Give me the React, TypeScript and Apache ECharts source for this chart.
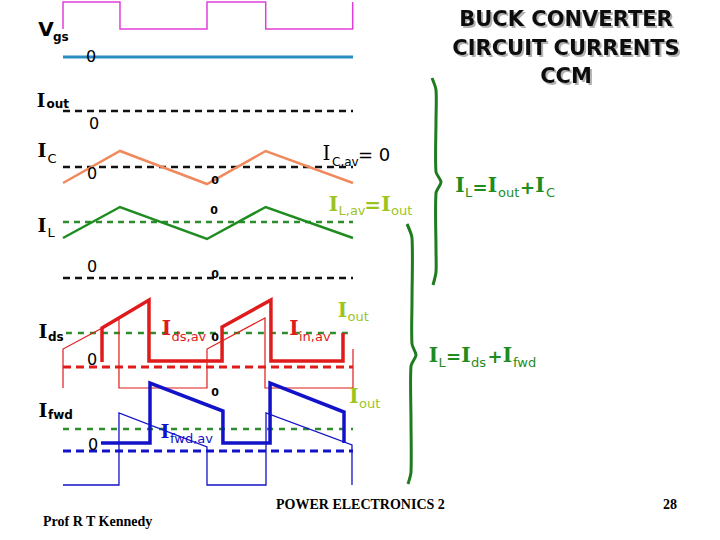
import React, { useEffect, useRef } from "react";
import * as echarts from "echarts";

// x: time in switching periods (0..2); y: vertical level on the slide scale (0 = top, 540 = bottom)
const vgsWave = [[0, 29], [0, 2], [0.393, 2], [0.393, 29], [0.993, 29], [0.993, 2], [1.398, 2], [1.398, 29], [1.998, 29], [1.998, 2]];
const vgsZero = [[0, 57], [2, 57]];
const ioutLevel = [[0, 111], [2, 111]];
const icWave = [[0, 183], [0.393, 151], [0.993, 184], [1.398, 151], [2, 183]];
const icAvg = [[0, 167], [2, 167]];
const ilWave = [[0, 238], [0.393, 207], [0.993, 239], [1.398, 207], [2, 238]];
const ilAvg = [[0, 222], [2, 222]];
const idsZero = [[0, 278], [2, 278]];
const idsThick = [[0.269, 362], [0.269, 328], [0.593, 300], [0.593, 361], [1.097, 361], [1.097, 327], [1.434, 300], [1.434, 361], [1.931, 361], [1.931, 333]];
const idsThin = [[0, 388], [0, 349], [0.386, 319], [0.386, 388], [0.993, 388], [0.993, 349], [1.393, 318], [1.393, 388], [2, 388], [2, 349]];
const idsOutLevel = [[0.02, 333], [2, 333]];
const idsAvg = [[0, 367], [2, 367]];
const fwdThick = [[0.262, 443], [0.6, 443], [0.6, 383], [1.103, 411], [1.103, 443], [1.428, 443], [1.428, 383], [1.938, 412], [1.938, 443]];
const fwdThin = [[0, 485], [0.386, 485], [0.386, 413], [0.993, 447], [0.993, 485], [1.4, 485], [1.4, 413], [1.993, 445], [1.993, 485]];
const fwdOutLevel = [[0, 429], [2, 429]];
const fwdAvg = [[0, 451], [2, 451]];

const titleLines = ["BUCK CONVERTER", "CIRCUIT CURRENTS", "CCM"];

const MAGENTA = "#E040D8";
const TEAL = "#2B8CC4";
const ORANGE = "#F08A5D";
const GREEN = "#1E8C1E";
const DGREEN = "#2E8B2E";
const RED = "#E01B1B";
const BLUE = "#1212C8";
const YG = "#9DC31F";
const BRACE = "#1E7B1E";

type TO = { bold?: boolean; serif?: boolean; align?: string; family?: string; shadow?: boolean; lh?: number };
function txt(text: string, x: number, y: number, size: number, color: string, o: TO = {}) {
  const family = o.family || (o.serif ? "DejaVu Serif" : "DejaVu Sans");
  const style: any = {
    text,
    fontSize: size,
    fontFamily: family,
    fontWeight: o.bold ? "bold" : "normal",
    fill: color,
    textAlign: o.align || "left",
    textVerticalAlign: "middle",
    align: o.align || "left",
    verticalAlign: "middle",
  };
  if (o.lh) style.lineHeight = o.lh;
  if (o.shadow) {
    style.textShadowColor = "rgba(0,0,0,0.3)";
    style.textShadowOffsetX = 2;
    style.textShadowOffsetY = 2;
    style.textShadowBlur = 1;
  }
  return { type: "text", x, y, z: 100, silent: true, style };
}

function line(data: number[][], color: string, width: number, dash?: number[]) {
  return {
    type: "line",
    data,
    showSymbol: false,
    symbol: "none",
    silent: true,
    lineStyle: { color, width, type: dash || "solid", cap: "butt", join: "miter" },
  };
}

export default function App() {
  const ref = useRef<HTMLDivElement>(null);
  useEffect(() => {
    document.body.style.margin = "0";
    const chart = echarts.init(ref.current!, undefined, { renderer: "svg" });
    const I = (x: number, y: number, c: string, s = 20, bold = true) => txt("I", x, y, s, c, { bold, serif: true, align: "center" });
    const graphic: any[] = [
      // left labels
      txt("V", 46, 29, 20, "#000", { bold: true, align: "center" }),
      txt("gs", 53, 37, 12, "#000", { bold: true }),
      I(41, 100, "#000", 18),
      txt("out", 46.5, 104, 12, "#000", { bold: true }),
      I(42, 150, "#000", 19),
      txt("C", 47.5, 158, 13, "#000"),
      I(42, 225, "#000", 19),
      txt("L", 47.5, 232, 13, "#000"),
      I(43, 331, "#000", 19),
      txt("ds", 48, 337, 12, "#000", { bold: true }),
      I(43, 410, "#000", 19),
      txt("fwd", 48, 415, 12, "#000", { bold: true }),
      // zero markers
      txt("0", 91, 56, 16, "#000", { align: "center" }),
      txt("0", 94, 123, 16, "#000", { align: "center" }),
      txt("0", 92, 173, 16, "#000", { align: "center" }),
      txt("0", 92, 266, 16, "#000", { align: "center" }),
      txt("0", 92, 359, 16, "#000", { align: "center" }),
      txt("0", 93, 444, 16, "#000", { align: "center" }),
      txt("0", 215, 180, 11, "#000", { bold: true, align: "center" }),
      txt("0", 214, 210, 11, "#000", { bold: true, align: "center" }),
      txt("0", 215, 274, 11, "#000", { bold: true, align: "center" }),
      txt("0", 215, 337, 11, "#000", { bold: true, align: "center" }),
      txt("0", 215, 392, 11, "#000", { bold: true, align: "center" }),
      // I_C,av = 0
      I(326.5, 152.5, "#000", 20, false),
      txt("C,av", 332, 162, 12, "#000"),
      txt("= 0", 358, 154, 18, "#000"),
      // I_L,av = I_out
      I(333.5, 203.5, YG, 20),
      txt("L,av", 338.5, 210, 13, YG),
      txt("=", 372.5, 205, 20, YG, { bold: true, align: "center" }),
      I(386, 203.5, YG, 20),
      txt("out", 391, 210, 13, YG),
      // I_L = I_out + I_C
      I(460, 185, GREEN, 20),
      txt("L", 465, 192, 13, GREEN),
      txt("=", 480, 187, 18, GREEN, { bold: true, align: "center" }),
      I(492.5, 185, GREEN, 20),
      txt("out", 498, 192, 13, GREEN),
      txt("+", 527.5, 187, 18, GREEN, { bold: true, align: "center" }),
      I(540, 185, GREEN, 20),
      txt("C", 546, 192, 13, GREEN),
      // I_ds,av / I_in,av / I_out
      I(166.5, 327.5, RED, 20),
      txt("ds,av", 171.5, 336, 13, RED),
      I(294, 327.5, RED, 20),
      txt("in,av", 299, 336, 13, RED),
      I(342.5, 309.5, YG, 20),
      txt("out", 347.5, 316, 13, YG),
      I(354, 395.5, YG, 20),
      txt("out", 359, 403, 13, YG),
      // I_fwd,av
      I(165, 431, BLUE, 19),
      txt("fwd,av", 170, 438, 13, BLUE),
      // I_L = I_ds + I_fwd
      I(433.5, 354.5, GREEN, 20),
      txt("L", 438.5, 362, 13, GREEN),
      txt("=", 453.5, 356, 18, GREEN, { bold: true, align: "center" }),
      I(466, 354.5, GREEN, 20),
      txt("ds", 471, 362, 13, GREEN),
      txt("+", 495, 356, 18, GREEN, { bold: true, align: "center" }),
      I(507.5, 354.5, GREEN, 20),
      txt("fwd", 513, 362, 13, GREEN),
      // title
      txt(titleLines[0], 566, 19, 21, "#111", { bold: true, align: "center", shadow: true }),
      txt(titleLines[1], 566, 48, 21, "#111", { bold: true, align: "center", shadow: true }),
      txt(titleLines[2], 566, 76, 21, "#111", { bold: true, align: "center", shadow: true }),
      // footer
      txt("POWER ELECTRONICS 2", 276, 504, 14, "#000", { bold: true, family: "Liberation Serif" }),
      txt("28", 670, 504, 14, "#000", { bold: true, family: "Liberation Serif", align: "center" }),
      txt("Prof R T Kennedy", 43, 521, 14, "#000", { bold: true, family: "Liberation Serif" }),
      // braces
      {
        type: "polyline",
        z: 90,
        silent: true,
        shape: { points: [[432, 78], [436, 90], [436, 120], [436, 172], [441, 182], [436, 193], [436, 250], [436, 272], [433, 285]], smooth: 0.25 },
        style: { stroke: BRACE, lineWidth: 3, fill: "none" },
      },
      {
        type: "polyline",
        z: 90,
        silent: true,
        shape: { points: [[407, 224], [412, 238], [412, 300], [412, 344], [416, 355], [411, 366], [411, 420], [411, 472], [408, 484]], smooth: 0.25 },
        style: { stroke: BRACE, lineWidth: 3, fill: "none" },
      },
    ];

    chart.setOption({
      animation: false,
      backgroundColor: "#fff",
      grid: { left: 63, width: 290, top: 0, height: 540 },
      xAxis: { type: "value", min: 0, max: 2, show: false },
      yAxis: { type: "value", min: 0, max: 540, inverse: true, show: false },
      series: [
        line(vgsWave, MAGENTA, 1.5),
        line(vgsZero, TEAL, 3),
        line(ioutLevel, "#111", 2.5, [7, 5]),
        line(icAvg, "#111", 2.5, [7, 5]),
        line(icWave, ORANGE, 2.5),
        line(ilAvg, DGREEN, 2.5, [6, 5]),
        line(ilWave, GREEN, 2.5),
        line(idsZero, "#111", 2.5, [7, 5]),
        line(idsOutLevel, DGREEN, 2.5, [6, 6]),
        line(idsAvg, RED, 3, [8, 5]),
        line(idsThin, RED, 1.2),
        line(idsThick, RED, 3.5),
        line(fwdOutLevel, DGREEN, 2.5, [6, 6]),
        line(fwdAvg, BLUE, 3, [8, 5]),
        line(fwdThin, BLUE, 1.3),
        line(fwdThick, BLUE, 3.5),
      ],
      graphic,
    });
    return () => chart.dispose();
  }, []);
  return <div ref={ref} style={{ width: 720, height: 540 }} />;
}
